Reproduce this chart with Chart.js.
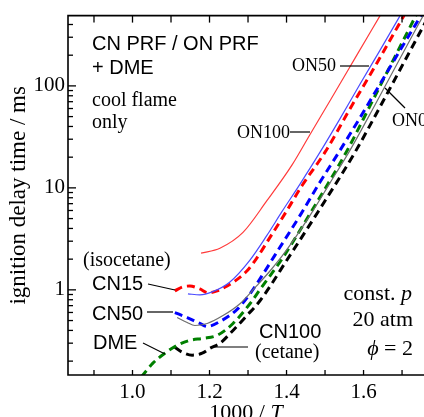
<!DOCTYPE html>
<html><head><meta charset="utf-8">
<script src="https://cdn.jsdelivr.net/npm/chart.js@4"></script>
<style>html,body{margin:0;padding:0;background:#fff;overflow:hidden}canvas{display:block}</style>
</head><body>
<canvas id="c" width="424" height="417"></canvas>
<script>
// ---- axis ticks ----
const xTickValues = [0.9, 1.0, 1.1, 1.2, 1.3, 1.4, 1.5, 1.6, 1.7];
const xTickLabels = ['', '1.0', '', '1.2', '', '1.4', '', '1.6', ''];
const yTickValues = [0.2,0.3,0.4,0.5,0.6,0.7,0.8,0.9,1,2,3,4,5,6,7,8,9,10,20,30,40,50,60,70,80,90,100,200,300,400];
const yTickLabels = {1: '1', 10: '10', 100: '100'};

// ---- series (x = 1000/T, y = ignition delay time / ms) ----
const on100X = [1.178, 1.227, 1.287, 1.349, 1.414, 1.461, 1.516, 1.578, 1.643];
const on100Y = [2.29, 2.56, 3.66, 7.48, 16.7, 33.4, 74.8, 187, 489];
const on50X = [1.144, 1.175, 1.207, 1.253, 1.305, 1.349, 1.388, 1.435, 1.487, 1.539, 1.591, 1.643, 1.695];
const on50Y = [0.914, 0.894, 0.956, 1.196, 1.96, 3.42, 5.84, 10.9, 22.4, 47.8, 104.5, 224, 489];
const on0X = [1.116, 1.142, 1.162, 1.194, 1.235, 1.279, 1.318, 1.357, 1.396, 1.464, 1.513, 1.562, 1.630, 1.695, 1.755];
const on0Y = [0.535, 0.478, 0.447, 0.468, 0.559, 0.731, 1.05, 1.53, 2.34, 5.59, 11.2, 22.4, 65.4, 187, 489];
const cn15X = [1.110, 1.131, 1.149, 1.175, 1.196, 1.220, 1.246, 1.266, 1.297, 1.321, 1.357, 1.396, 1.440, 1.500, 1.565, 1.630, 1.705];
const cn15Y = [0.978, 1.07, 1.09, 1.02, 0.935, 0.978, 1.09, 1.22, 1.53, 2.00, 3.27, 5.59, 10.5, 22.4, 59.8, 156, 489];
const cn50X = [1.110, 1.142, 1.175, 1.194, 1.227, 1.271, 1.305, 1.336, 1.370, 1.438, 1.487, 1.536, 1.591, 1.643, 1.695, 1.749];
const cn50Y = [0.598, 0.535, 0.468, 0.437, 0.489, 0.640, 0.914, 1.37, 2.19, 5.59, 11.4, 22.4, 48.9, 104.5, 224, 489];
const dmeX = [1.001, 1.027, 1.053, 1.084, 1.116, 1.149, 1.183, 1.220, 1.261, 1.305, 1.336, 1.388, 1.461, 1.555, 1.617, 1.682, 1.736];
const dmeY = [0.112, 0.146, 0.191, 0.239, 0.286, 0.320, 0.334, 0.358, 0.468, 0.731, 1.07, 2.00, 5.59, 22.4, 64.0, 195, 489];
const cn100X = [1.110, 1.129, 1.155, 1.181, 1.201, 1.227, 1.261, 1.297, 1.331, 1.404, 1.482, 1.578, 1.643, 1.708, 1.770];
const cn100Y = [0.273, 0.245, 0.229, 0.239, 0.267, 0.299, 0.400, 0.559, 0.782, 2.04, 5.84, 22.4, 62.5, 179, 489];

const SERIF = '"Liberation Serif", "Times New Roman", serif';
const SANS = '"Liberation Sans", Arial, sans-serif';

function pts(xs, ys) { return xs.map((v, i) => ({x: v, y: ys[i]})); }
function solid(label, xs, ys, color) {
  return {label, data: pts(xs, ys), borderColor: color, borderWidth: 1.2, pointRadius: 0,
    showLine: true, cubicInterpolationMode: 'monotone', clip: 0, fill: false};
}
function dashed(label, xs, ys, color) {
  return {label, data: pts(xs, ys), borderColor: color, borderWidth: 3, borderDash: [8, 5],
    pointRadius: 0, showLine: true, cubicInterpolationMode: 'monotone', clip: 0, fill: false};
}

function rich(ctx, parts, x, y, align) {
  let total = 0;
  parts.forEach(p => { ctx.font = p[1]; total += ctx.measureText(p[0]).width; });
  let cx = align === 'right' ? x - total : (align === 'center' ? x - total / 2 : x);
  ctx.textAlign = 'left';
  parts.forEach(p => { ctx.font = p[1]; ctx.fillText(p[0], cx, y); cx += ctx.measureText(p[0]).width; });
}
function line(ctx, x1, y1, x2, y2) { ctx.beginPath(); ctx.moveTo(x1, y1); ctx.lineTo(x2, y2); ctx.stroke(); }

const decor = {
  id: 'decor',
  afterDatasetsDraw(chart) {
    const {ctx, chartArea: a, scales: {x, y}} = chart;
    ctx.save();
    ctx.strokeStyle = '#000';
    ctx.lineWidth = 1.6;
    ctx.beginPath();
    ctx.moveTo(a.right + 10, a.top); ctx.lineTo(a.left, a.top);
    ctx.lineTo(a.left, a.bottom); ctx.lineTo(a.right + 10, a.bottom);
    ctx.stroke();
    ctx.lineWidth = 1.3;
    y.ticks.forEach(t => {
      const p = y.getPixelForValue(t.value);
      const len = t.label ? 8 : 5;
      line(ctx, a.left, p, a.left + len, p);
    });
    x.ticks.forEach(t => {
      const p = x.getPixelForValue(t.value);
      line(ctx, p, a.bottom, p, a.bottom - 5);
      line(ctx, p, a.top, p, a.top + 7);
    });
    ctx.restore();
  },
  afterDraw(chart) {
    const {ctx, chartArea: a} = chart;
    ctx.save();
    ctx.fillStyle = '#000';
    ctx.strokeStyle = '#000';
    ctx.textBaseline = 'alphabetic';
    // axis titles
    ctx.save();
    ctx.translate(19, (a.top + a.bottom) / 2);
    ctx.rotate(-Math.PI / 2);
    ctx.font = '23px ' + SERIF;
    ctx.textAlign = 'center';
    ctx.textBaseline = 'middle';
    ctx.fillText('ignition delay time / ms', 0, 0);
    ctx.restore();
    rich(ctx, [['1000 / ', '22px ' + SERIF], ['T', 'italic 22px ' + SERIF]], (a.left + a.right) / 2, 419, 'center');

    // header text
    ctx.font = '20px ' + SANS; ctx.textAlign = 'left';
    ctx.fillText('CN PRF / ON PRF', 92, 50);
    ctx.fillText('+ DME', 92, 74);
    ctx.font = '20px ' + SERIF;
    ctx.fillText('cool flame', 92, 106);
    ctx.fillText('only', 92, 128);

    // series labels (left)
    ctx.font = '20px ' + SERIF;
    ctx.fillText('(isocetane)', 83, 266);
    ctx.font = '20px ' + SANS;
    ctx.fillText('CN15', 92, 290);
    ctx.fillText('CN50', 92, 320);
    ctx.fillText('DME', 93, 349);
    ctx.fillText('CN100', 259, 338);
    ctx.font = '20px ' + SERIF;
    ctx.fillText('(cetane)', 255, 358);

    // ON labels
    ctx.font = '18px ' + SERIF;
    ctx.fillText('ON50', 292, 71);
    ctx.fillText('ON100', 237, 138);
    ctx.fillText('ON0', 392, 126);

    // conditions
    rich(ctx, [['const. ', '22px ' + SERIF], ['p', 'italic 22px ' + SERIF]], 412, 300, 'right');
    rich(ctx, [['20 atm', '22px ' + SERIF]], 413, 326, 'right');
    rich(ctx, [['\u03D5', 'italic 22px ' + SERIF], [' = 2', '22px ' + SERIF]], 413, 355, 'right');

    // leader lines
    ctx.lineWidth = 1.2;
    line(ctx, 148, 284, 175, 290);
    line(ctx, 147, 312, 173, 312);
    line(ctx, 143, 343, 165, 354);
    line(ctx, 213, 347, 248, 347);
    line(ctx, 340, 66, 369, 66);
    line(ctx, 290, 132, 310, 132);
    line(ctx, 385, 88, 405, 108);
    ctx.restore();
  }
};

new Chart(document.getElementById('c'), {
  type: 'scatter',
  data: {
    datasets: [
      solid('ON100', on100X, on100Y, '#ff3b3b'),
      solid('ON50', on50X, on50Y, '#4a4aff'),
      solid('ON0', on0X, on0Y, '#6e6e6e'),
      dashed('CN15', cn15X, cn15Y, '#ff0000'),
      dashed('CN50', cn50X, cn50Y, '#0000ff'),
      dashed('DME', dmeX, dmeY, '#008000'),
      dashed('CN100', cn100X, cn100Y, '#000000')
    ]
  },
  options: {
    responsive: false,
    animation: false,
    devicePixelRatio: 1,
    layout: {padding: {top: 12, right: 0, left: 0, bottom: 0}},
    plugins: {legend: {display: false}, tooltip: {enabled: false}},
    scales: {
      x: {
        type: 'linear', min: 0.8325, max: 1.757,
        grid: {display: false, drawTicks: false}, border: {display: false},
        afterBuildTicks: s => { s.ticks = xTickValues.map(v => ({value: v})); },
        afterFit: s => { s.height = 42; },
        ticks: {
          font: {family: SERIF, size: 21}, color: '#000', padding: 5, maxRotation: 0, autoSkip: false,
          callback: (v) => { const i = xTickValues.findIndex(t => Math.abs(t - v) < 1e-6); return i >= 0 ? xTickLabels[i] : ''; }
        }
      },
      y: {
        type: 'logarithmic', min: 0.1462, max: 489,
        grid: {display: false, drawTicks: false}, border: {display: false},
        afterBuildTicks: s => { s.ticks = yTickValues.map(v => ({value: v})); },
        afterFit: s => { s.width = 68; },
        ticks: {
          font: {family: SERIF, size: 21}, color: '#000', padding: 3, autoSkip: false,
          callback: (v) => yTickLabels[v] || ''
        }
      }
    }
  },
  plugins: [decor]
});
</script>
</body></html>
